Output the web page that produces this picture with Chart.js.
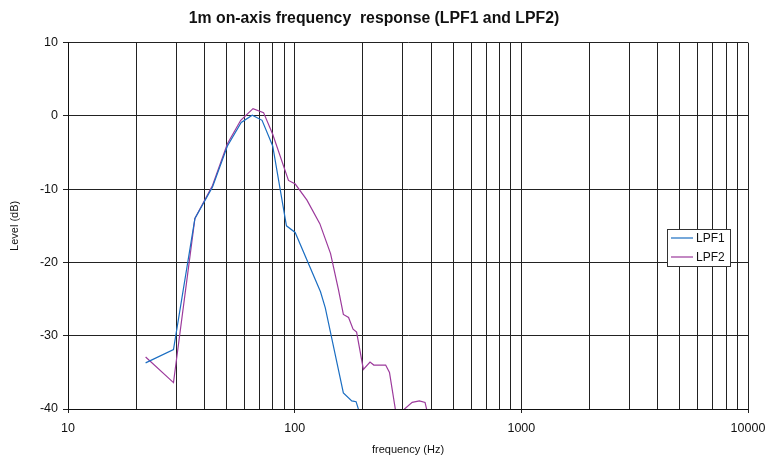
<!DOCTYPE html>
<html>
<head>
<meta charset="utf-8">
<script src="https://cdn.jsdelivr.net/npm/chart.js@4"></script>
<style>
  html, body { margin: 0; padding: 0; background: #fff; }
  #wrap { width: 768px; height: 462px; }
</style>
</head>
<body>
<div id="wrap"><canvas id="chart"></canvas></div>
<script>
// values
const lpf1Freq = [22, 29.2, 36.3, 43.4, 50.5, 58.1, 65, 71.8, 80, 92, 100.5, 130, 136.5, 164, 178.6, 186.6, 191, 196];
const lpf1Level = [-33.7, -31.9, -14.0, -9.7, -4.1, -0.9, 0.1, -0.6, -4.1, -15.0, -15.9, -24.0, -26.2, -37.8, -38.9, -39.0, -40.0, -41];

const lpf2Freq = [22, 29.2, 36.3, 43.4, 50.5, 57.8, 65.5, 72.9, 80, 93.9, 100.6, 113.3, 129.1, 144, 156, 164, 172.9, 181, 187.6, 201, 215, 223.4, 252, 262, 278, 290, 305, 330, 355, 376, 382, 390];
const lpf2Level = [-32.9, -36.4, -14.0, -9.5, -3.8, -0.6, 1.0, 0.45, -2.5, -8.8, -9.3, -11.5, -14.7, -18.8, -23.7, -27.1, -27.5, -29.1, -29.5, -34.6, -33.6, -34.0, -34.0, -35.0, -40.0, -44, -40.0, -39.1, -38.9, -39.1, -40.0, -42];

const xTickLabels = [10, 100, 1000, 10000];
const gridFreqs = [10, 20, 30, 40, 50, 60, 70, 80, 90,
                   100, 200, 300, 400, 500, 600, 700, 800, 900,
                   1000, 2000, 3000, 4000, 5000, 6000, 7000, 8000, 9000, 10000];

const seriesNames = ['LPF1', 'LPF2'];
const seriesColors = ['#1b6ec2', '#9c3a9c'];

const font = 'Liberation Sans, Arial, sans-serif';

function pairs(xs, ys) {
  return xs.map((x, i) => ({ x: x, y: ys[i] }));
}

// boxed legend sitting inside the plot area, like the original
const boxLegend = {
  id: 'boxLegend',
  afterDatasetsDraw(chart) {
    const ctx = chart.ctx;
    const ca = chart.chartArea;
    const x = Math.round(ca.right - 81), y = Math.round(ca.top + 186), w = 63, h = 37;
    ctx.save();
    ctx.fillStyle = '#fff';
    ctx.fillRect(x, y, w, h);
    ctx.strokeStyle = '#333';
    ctx.lineWidth = 1;
    ctx.strokeRect(x + 0.5, y + 0.5, w, h);
    ctx.font = '12px ' + font;
    ctx.textBaseline = 'middle';
    seriesNames.forEach((name, i) => {
      const ly = y + 9 + i * 19;
      ctx.strokeStyle = seriesColors[i];
      ctx.lineWidth = 1.2;
      ctx.beginPath();
      ctx.moveTo(x + 4, ly);
      ctx.lineTo(x + 26, ly);
      ctx.stroke();
      ctx.fillStyle = '#111';
      ctx.fillText(name, x + 29, ly + 0.5);
    });
    ctx.restore();
  }
};

new Chart(document.getElementById('chart'), {
  type: 'line',
  data: {
    datasets: [
      { label: seriesNames[0], data: pairs(lpf1Freq, lpf1Level), borderColor: seriesColors[0], borderWidth: 1.2, pointRadius: 0, tension: 0 },
      { label: seriesNames[1], data: pairs(lpf2Freq, lpf2Level), borderColor: seriesColors[1], borderWidth: 1.2, pointRadius: 0, tension: 0 }
    ]
  },
  options: {
    responsive: true,
    maintainAspectRatio: false,
    animation: false,
    layout: { padding: { left: 0, right: 20, top: 0, bottom: 0 } },
    plugins: {
      legend: { display: false },
      tooltip: { enabled: false },
      title: {
        display: true,
        text: '1m on-axis frequency  response (LPF1 and LPF2)',
        color: '#111',
        font: { family: font, size: 15.8, weight: 'bold' },
        padding: { top: 9.5, bottom: 14.2 }
      }
    },
    scales: {
      x: {
        type: 'logarithmic',
        min: 10,
        max: 10000,
        afterBuildTicks: s => { s.ticks = gridFreqs.map(v => ({ value: v })); },
        afterFit: s => { s.height = 53; s.paddingLeft = 0; s.paddingRight = 0; },
        ticks: {
          autoSkip: false,
          maxRotation: 0,
          padding: 8,
          color: '#111',
          font: { family: font, size: 12.5 },
          callback: v => xTickLabels.includes(v) ? String(v) : ''
        },
        grid: {
          color: '#222',
          lineWidth: 1,
          tickLength: 4,
          tickColor: c => (c.tick && xTickLabels.includes(c.tick.value)) ? '#222' : 'rgba(0,0,0,0)'
        },
        border: { color: '#111' },
        title: {
          display: true,
          text: 'frequency (Hz)',
          color: '#111',
          font: { family: font, size: 11 },
          padding: { top: 4, bottom: 5 }
        }
      },
      y: {
        min: -40,
        max: 10,
        afterFit: s => { s.width = 68; },
        ticks: {
          stepSize: 10,
          padding: 5,
          color: '#111',
          font: { family: font, size: 12.5 }
        },
        grid: { color: '#222', lineWidth: 1, tickLength: 5 },
        border: { color: '#111' },
        title: {
          display: true,
          text: 'Level (dB)',
          color: '#111',
          font: { family: font, size: 11 },
          padding: { top: 8, bottom: 0 }
        }
      }
    }
  },
  plugins: [boxLegend]
});
</script>
</body>
</html>
